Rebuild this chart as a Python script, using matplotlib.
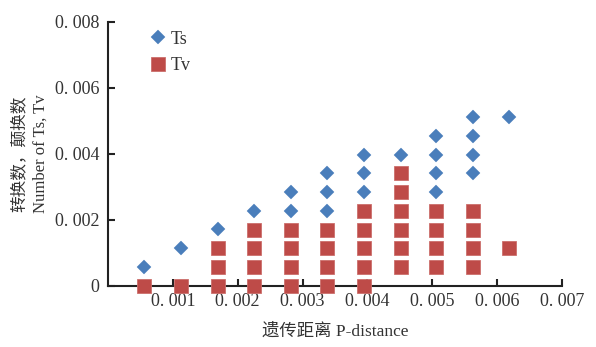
import matplotlib
matplotlib.use('Agg')
import matplotlib.pyplot as plt

plt.rcParams['font.family'] = ['Liberation Serif', 'Noto Sans CJK SC']

# transition (Ts) points
ts_x = [0.00055, 0.00112, 0.00169, 0.00225,
        0.00282, 0.00282,
        0.00338, 0.00338, 0.00338,
        0.00394, 0.00394, 0.00394,
        0.00451,
        0.00506, 0.00506, 0.00506, 0.00506,
        0.00563, 0.00563, 0.00563, 0.00563,
        0.00618]
ts_y = [0.00059, 0.00115, 0.00172, 0.00228,
        0.00228, 0.00285,
        0.00228, 0.00285, 0.00342,
        0.00285, 0.00342, 0.00398,
        0.00398,
        0.00285, 0.00342, 0.00398, 0.00455,
        0.00342, 0.00398, 0.00455, 0.00512,
        0.00512]

# transversion (Tv) points
tv_x = [0.00055, 0.00112,
        0.00169, 0.00169, 0.00169,
        0.00225, 0.00225, 0.00225, 0.00225,
        0.00282, 0.00282, 0.00282, 0.00282,
        0.00338, 0.00338, 0.00338, 0.00338,
        0.00394, 0.00394, 0.00394, 0.00394, 0.00394,
        0.00451, 0.00451, 0.00451, 0.00451, 0.00451, 0.00451,
        0.00506, 0.00506, 0.00506, 0.00506,
        0.00563, 0.00563, 0.00563, 0.00563,
        0.00618]
tv_y = [0.0, 0.0,
        0.0, 0.00057, 0.00114,
        0.0, 0.00057, 0.00114, 0.00171,
        0.0, 0.00057, 0.00114, 0.00171,
        0.0, 0.00057, 0.00114, 0.00171,
        0.0, 0.00057, 0.00114, 0.00171, 0.00228,
        0.00057, 0.00114, 0.00171, 0.00228, 0.00285, 0.00342,
        0.00057, 0.00114, 0.00171, 0.00228,
        0.00057, 0.00114, 0.00171, 0.00228,
        0.00114]

x_ticks = [0.001, 0.002, 0.003, 0.004, 0.005, 0.006, 0.007]
x_labels = ['0. 001', '0. 002', '0. 003', '0. 004', '0. 005', '0. 006', '0. 007']
y_ticks = [0, 0.002, 0.004, 0.006, 0.008]
y_labels = ['0', '0. 002', '0. 004', '0. 006', '0. 008']

blue = '#4a7ebb'
red = '#be4b48'

fig = plt.figure(figsize=(5.96, 3.47), dpi=100)
ax = fig.add_axes([108 / 596, 1 - 286 / 347, 454 / 596, 264 / 347])

ax.plot(ts_x, ts_y, 'D', color=blue, ms=7.4, mec=blue, mew=0.3, label='Ts', clip_on=False, zorder=3)
ax.plot(tv_x, tv_y, 's', color=red, ms=10.0, mec='#cc6f6c', mew=0.6, label='Tv', clip_on=False, zorder=3)

ax.set_xlim(0, 0.007)
ax.set_ylim(0, 0.008)
ax.set_xticks(x_ticks)
ax.set_xticklabels(x_labels)
ax.set_yticks(y_ticks)
ax.set_yticklabels(y_labels)

for side in ['top', 'right']:
    ax.spines[side].set_visible(False)
for side in ['left', 'bottom']:
    ax.spines[side].set_linewidth(1.5)
    ax.spines[side].set_color('#222222')

ax.tick_params(axis='both', direction='in', length=5, width=1.5, color='#222222',
               labelsize=13, labelcolor='#333333')
ax.tick_params(axis='x', pad=5)
ax.tick_params(axis='y', pad=6)

ax.set_xlabel('遗传距离 P-distance', fontsize=12.5, color='#333333', labelpad=10)
ax.set_ylabel('转换数，颠换数\nNumber of Ts, Tv', fontsize=12, color='#333333',
              labelpad=5, linespacing=1.4)

ax.legend(loc='upper left', bbox_to_anchor=(0.07, 0.995), frameon=False, fontsize=13,
          handletextpad=0.1, labelspacing=0.55, borderaxespad=0, handlelength=1.2,
          labelcolor='#333333')

fig.savefig('out.png', dpi=100, facecolor='white')
